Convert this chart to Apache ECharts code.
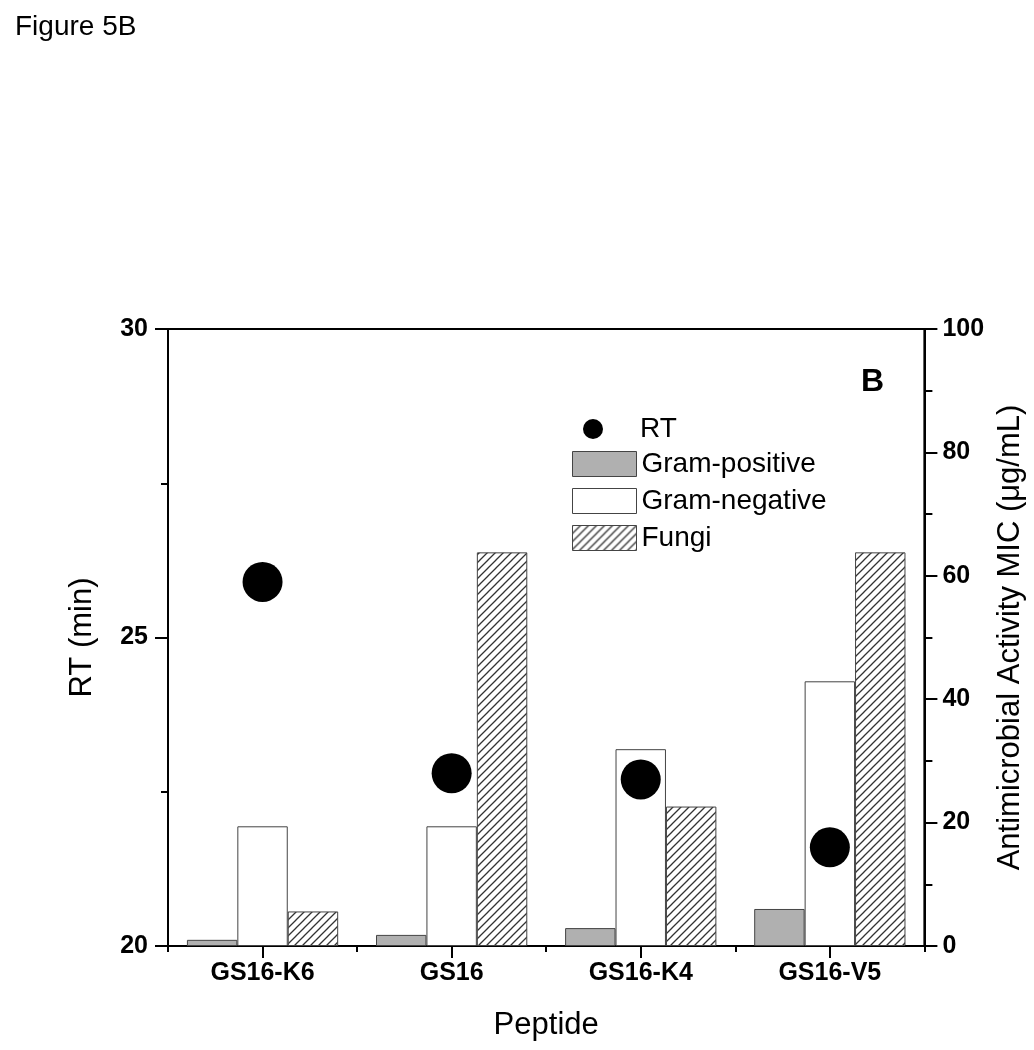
<!DOCTYPE html>
<html>
<head>
<meta charset="utf-8">
<script src="https://cdn.jsdelivr.net/npm/echarts@6/dist/echarts.min.js"></script>
<style>
html,body{margin:0;padding:0;background:#fff;}
#chart{width:1034px;height:1050px;}
</style>
</head>
<body>
<div id="chart"></div>
<script>
const categories = ['GS16-K6', 'GS16', 'GS16-K4', 'GS16-V5'];
const rtValues = [25.9, 22.8, 22.7, 21.6];
const gramPositive = [1.0, 1.8, 2.9, 6.0];
const gramNegative = [19.4, 19.4, 31.9, 42.9];
const fungi = [5.6, 63.8, 22.6, 63.8];

const FONT = '"Liberation Sans", Arial, Helvetica, sans-serif';

// hatch pattern for Fungi
const hatch = document.createElement('canvas');
hatch.width = 8; hatch.height = 8;
(function () {
  const c = hatch.getContext('2d');
  c.fillStyle = '#ffffff';
  c.fillRect(0, 0, 8, 8);
  c.strokeStyle = '#333333';
  c.lineWidth = 1.3;
  c.beginPath();
  c.moveTo(-1, 9); c.lineTo(9, -1);
  c.moveTo(-1, 1); c.lineTo(1, -1);
  c.moveTo(7, 9); c.lineTo(9, 7);
  c.stroke();
})();

const chart = echarts.init(document.getElementById('chart'), null, {renderer: 'canvas'});

const axisLineStyle = {color: '#000', width: 2};

chart.setOption({
  backgroundColor: '#ffffff',
  animation: false,
  title: {
    text: 'Figure 5B',
    left: 10, top: 8,
    textStyle: {fontFamily: FONT, fontSize: 28, fontWeight: 'normal', color: '#000'}
  },
  graphic: [{
    type: 'text', left: 861, top: 366,
    style: {text: 'B', fontFamily: FONT, fontSize: 32, fontWeight: 'bold', fill: '#000'}
  }],
  grid: {
    left: 168, right: 103, top: 329, bottom: 104,
    show: true, borderColor: '#000', borderWidth: 2, backgroundColor: 'transparent'
  },
  legend: [{
    data: [{name: 'RT', icon: 'circle'}],
    left: 578, top: 410,
    itemWidth: 64, itemHeight: 20,
    itemStyle: {opacity: 1, color: '#000'},
    textStyle: {fontFamily: FONT, fontSize: 28, color: '#000', lineHeight: 22, padding: [0, 0, 0, 10]},
    selectedMode: false
  }, {
    data: ['Gram-positive', 'Gram-negative', 'Fungi'],
    icon: 'rect',
    orient: 'vertical',
    left: 567, top: 445,
    itemWidth: 64, itemHeight: 25, itemGap: 9,
    itemStyle: {borderColor: '#444', borderWidth: 1},
    textStyle: {fontFamily: FONT, fontSize: 28, color: '#000', lineHeight: 25},
    selectedMode: false
  }],
  xAxis: [{
    type: 'category',
    data: categories,
    position: 'bottom',
    boundaryGap: true,
    axisLine: {show: true, lineStyle: axisLineStyle},
    axisTick: {show: true, alignWithLabel: true, length: 12, lineStyle: {color: '#000', width: 2}},
    axisLabel: {fontFamily: FONT, fontSize: 25, fontWeight: 'bold', color: '#000', margin: 15},
    name: 'Peptide',
    nameLocation: 'middle',
    nameGap: 64,
    nameTextStyle: {fontFamily: FONT, fontSize: 31, color: '#000'}
  }, {
    type: 'category',
    data: categories,
    position: 'bottom',
    boundaryGap: true,
    axisLine: {show: false},
    axisTick: {show: true, length: 6, lineStyle: {color: '#000', width: 2}},
    axisLabel: {show: false}
  }],
  yAxis: [{
    type: 'value',
    min: 20, max: 30, interval: 5,
    position: 'left',
    axisLine: {show: true, lineStyle: axisLineStyle},
    axisTick: {show: true, length: 13, lineStyle: {color: '#000', width: 2}},
    minorTick: {show: true, splitNumber: 2, length: 7, lineStyle: {color: '#000', width: 2}},
    splitLine: {show: false},
    axisLabel: {fontFamily: FONT, fontSize: 25, fontWeight: 'bold', color: '#000', margin: 20},
    name: 'RT (min)',
    nameLocation: 'middle',
    nameGap: 70,
    nameTextStyle: {fontFamily: FONT, fontSize: 31, color: '#000'}
  }, {
    type: 'value',
    min: 0, max: 100, interval: 20,
    position: 'right',
    axisLine: {show: true, lineStyle: axisLineStyle},
    axisTick: {show: true, length: 13, lineStyle: {color: '#000', width: 2}},
    minorTick: {show: true, splitNumber: 2, length: 8, lineStyle: {color: '#000', width: 2}},
    splitLine: {show: false},
    axisLabel: {fontFamily: FONT, fontSize: 25, fontWeight: 'bold', color: '#000', margin: 18},
    name: 'Antimicrobial Activity MIC (\u03bcg/mL)',
    nameLocation: 'middle',
    nameGap: 70,
    nameTextStyle: {fontFamily: FONT, fontSize: 31, color: '#000'}
  }],
  series: [{
    name: 'Gram-positive',
    type: 'bar',
    xAxisIndex: 0, yAxisIndex: 1,
    data: gramPositive,
    barGap: '0%', barCategoryGap: '20%',
    itemStyle: {color: '#b0b0b0', borderColor: '#444', borderWidth: 1},
    z: 2
  }, {
    name: 'Gram-negative',
    type: 'bar',
    xAxisIndex: 0, yAxisIndex: 1,
    data: gramNegative,
    barGap: '0%', barCategoryGap: '20%',
    itemStyle: {color: '#ffffff', borderColor: '#444', borderWidth: 1},
    z: 2
  }, {
    name: 'Fungi',
    type: 'bar',
    xAxisIndex: 0, yAxisIndex: 1,
    data: fungi,
    barGap: '0%', barCategoryGap: '20%',
    itemStyle: {color: {image: hatch, repeat: 'repeat'}, borderColor: '#444', borderWidth: 1},
    z: 2
  }, {
    name: 'RT',
    type: 'scatter',
    xAxisIndex: 0, yAxisIndex: 0,
    data: rtValues,
    symbol: 'circle',
    symbolSize: 40,
    itemStyle: {color: '#000', opacity: 1},
    z: 5
  }]
});
</script>
</body>
</html>
